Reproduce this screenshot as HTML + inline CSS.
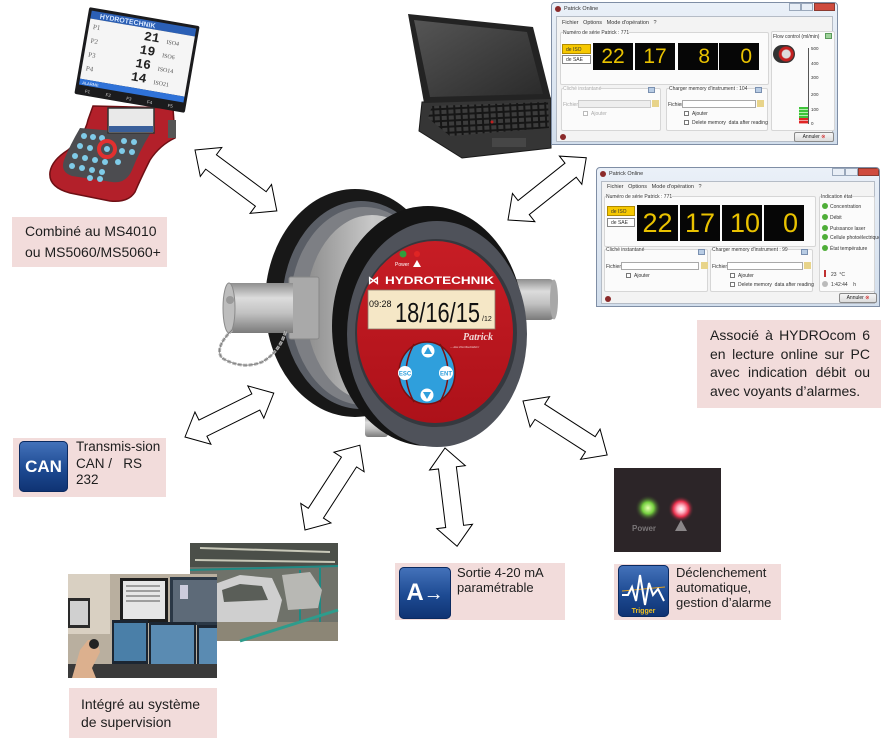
<!DOCTYPE html>
<html><head><meta charset="utf-8">
<style>
*{margin:0;padding:0;box-sizing:border-box}
body{width:889px;height:748px;background:#fff;position:relative;overflow:hidden;font-family:"Liberation Sans",Arial,sans-serif;color:#1e1e1e}
.a{position:absolute}
.pink{position:absolute;background:#f2dcdb}
.txt{position:absolute;white-space:nowrap;color:#1e1e1e}
.icon{position:absolute;border-radius:5px;background:linear-gradient(#4573bb,#1d4a92 55%,#0f3272);box-shadow:inset 0 0 0 1px #0b2a60;color:#fff;font-weight:bold;text-align:center}
.win{position:absolute;border:1px solid #7f8ea5;background:linear-gradient(#eaf0f8,#d2deec);border-radius:4px 4px 0 0;overflow:hidden}
.win div{position:absolute;white-space:nowrap}
.s{font-size:5px;color:#333;line-height:6px}
.grp{border:1px solid #d6d6d6;border-radius:2px;background:#fbfbfb}
.blk{background:#060606;color:#e9c200;text-align:center}
.fld{background:#fff;border:1px solid #a9a9a9}
.chk{width:5px;height:5px;border:1px solid #777;background:#fff}
.btn{border:1px solid #8a8a8a;border-radius:2px;background:linear-gradient(#f6f6f6,#dcdcdc);font-size:5px;color:#222;text-align:center;line-height:8px}
</style></head>
<body>

<svg class="a" style="left:0;top:0" width="889" height="748" viewBox="0 0 889 748">
<defs>
<linearGradient id="cyl" x1="0" y1="0" x2="0" y2="1">
<stop offset="0" stop-color="#8e8e8e"/><stop offset=".3" stop-color="#dcdcdc"/><stop offset=".6" stop-color="#c2c2c2"/><stop offset="1" stop-color="#7a7a7a"/></linearGradient>
<linearGradient id="silver" x1="0" y1="0" x2="1" y2="0">
<stop offset="0" stop-color="#8d8d8d"/><stop offset=".5" stop-color="#c8c8c8"/><stop offset="1" stop-color="#b0b0b0"/></linearGradient>
<linearGradient id="red" x1="0" y1="0" x2="0" y2="1">
<stop offset="0" stop-color="#c71d25"/><stop offset="1" stop-color="#ad1119"/></linearGradient>
<linearGradient id="scr" x1="0" y1="0" x2="1" y2="1">
<stop offset="0" stop-color="#555"/><stop offset="1" stop-color="#2a2a2a"/></linearGradient>
<radialGradient id="gG"><stop offset="0" stop-color="#e6ffb0"/><stop offset=".45" stop-color="#74cf3e"/><stop offset="1" stop-color="#2c2528" stop-opacity="0"/></radialGradient>
<radialGradient id="gR"><stop offset="0" stop-color="#fff"/><stop offset=".3" stop-color="#ffb0c0"/><stop offset=".6" stop-color="#e8304c"/><stop offset="1" stop-color="#2c2528" stop-opacity="0"/></radialGradient>
<pattern id="keys" width="7" height="6" patternUnits="userSpaceOnUse" patternTransform="rotate(-3)">
<rect width="7" height="6" fill="#161616"/><rect x="1" y="1" width="5" height="4" fill="#3c3c3c"/></pattern>
</defs>

<!-- ===== handheld MS4010 ===== -->
<path d="M93,106 L173,108 L175,138 Q160,145 150,160 Q140,180 135,192 Q128,203 110,201 L70,193 Q48,187 50,172 Q52,160 68,150 Q85,135 88,120 Z" fill="#b3202a" stroke="#6e0f14" stroke-width="1.5"/>
<path d="M80,128 L150,134 Q140,150 132,170 Q126,184 112,182 L72,176 Q60,172 64,160 Q70,145 80,128 Z" fill="#4c4c50"/>
<rect x="108" y="108" width="46" height="25" fill="#e9e9e9" stroke="#333" stroke-width="1.5"/>
<rect x="109" y="126" width="44" height="6" fill="#3a5f9a"/>
<g fill="#7fcbe8">
<circle cx="84" cy="136" r="3"/><circle cx="93" cy="137" r="3"/><circle cx="102" cy="138" r="3"/><circle cx="124" cy="141" r="3"/><circle cx="134" cy="142" r="3"/>
<circle cx="80" cy="146" r="3"/><circle cx="90" cy="148" r="3"/><circle cx="122" cy="151" r="3"/><circle cx="132" cy="152" r="3"/>
<circle cx="75" cy="156" r="3"/><circle cx="85" cy="158" r="3"/><circle cx="95" cy="160" r="3"/><circle cx="105" cy="162" r="3"/><circle cx="118" cy="162" r="3"/>
<circle cx="72" cy="166" r="3"/><circle cx="82" cy="168" r="3"/><circle cx="92" cy="170" r="3"/><circle cx="102" cy="172" r="3"/>
<circle cx="90" cy="178" r="3"/><circle cx="100" cy="179" r="3"/>
</g>
<circle cx="107" cy="149" r="8" fill="none" stroke="#e03030" stroke-width="4"/>
<circle cx="107" cy="149" r="3" fill="#7fcbe8"/>
<rect x="168" y="120" width="8" height="18" fill="#555"/>

<g transform="translate(137,60) rotate(9.8) translate(-56,-44)">
<rect width="112" height="88" rx="2" fill="#1b1b1d"/>
<rect x="3" y="3" width="106" height="8" fill="#2b5fb5"/>
<text x="12" y="9.6" font-size="7" font-weight="bold" fill="#d8e8ff" font-family="Liberation Sans,sans-serif">HYDROTECHNIK</text>
<rect x="3" y="11" width="106" height="61" fill="#f5f5f5"/>
<rect x="3" y="72" width="106" height="6" fill="#2f72d8"/>
<text x="6" y="77" font-size="4" fill="#fff" font-family="Liberation Sans,sans-serif">ALARME</text>
<g font-family="Liberation Serif,serif" font-size="7" fill="#666">
<text x="7" y="21">P1</text><text x="7" y="35">P2</text><text x="7" y="49">P3</text><text x="7" y="63">P4</text></g>
<g font-family="Liberation Mono,monospace" font-size="13" font-weight="bold" fill="#222">
<text x="59" y="23">21</text><text x="57" y="37">19</text><text x="55" y="51">16</text><text x="53" y="65">14</text></g>
<g font-family="Liberation Serif,serif" font-size="6" fill="#555">
<text x="82" y="23">ISO4</text><text x="80" y="37">ISO6</text><text x="78" y="51">ISO14</text><text x="76" y="65">ISO21</text></g>
<g font-family="Liberation Sans,sans-serif" font-size="4.5" fill="#ccc">
<text x="10" y="85">F1</text><text x="31" y="85">F2</text><text x="52" y="85">F3</text><text x="73" y="85">F4</text><text x="94" y="85">F5</text></g>
</g>

<!-- ===== laptop ===== -->
<polygon points="422,102 551,98 551,148 462,158 419,131" fill="#353535" stroke="#1a1a1a"/>
<polygon points="432,106 548,102 549,128 450,136 428,118" fill="url(#keys)"/>
<circle cx="492" cy="122" r="1.5" fill="#c02020"/>
<rect x="492" y="138" width="34" height="9" fill="#464646"/>
<polygon points="408,14 533,27 551,99 424,103" fill="#232323"/>
<polygon points="414,20 527,32 543,94 430,97" fill="url(#scr)"/>

<!-- ===== central device ===== -->
<rect x="500" y="279" width="55" height="41" rx="6" fill="url(#cyl)"/>
<ellipse cx="554" cy="299.5" rx="4" ry="20" fill="#a8a8a8"/>
<ellipse cx="355" cy="303" rx="90" ry="114" fill="#181818"/>
<ellipse cx="361" cy="305" rx="79" ry="104" fill="#5a5e66"/>
<ellipse cx="364" cy="306" rx="74" ry="99" fill="#7d7f84"/>
<ellipse cx="372" cy="308" rx="66" ry="93" fill="url(#silver)"/>
<rect x="365" y="416" width="23" height="21" rx="3" fill="url(#cyl)"/>
<!-- left fitting -->
<rect x="289" y="277" width="30" height="62" rx="2" fill="#a9a9a9" stroke="#888"/>
<rect x="228" y="283" width="65" height="50" fill="url(#cyl)"/>
<ellipse cx="229" cy="308" rx="6" ry="25" fill="#bdbdbd" stroke="#8a8a8a"/>
<circle cx="230" cy="300" r="4" fill="#999"/>
<!-- front ring -->
<ellipse cx="428" cy="326" rx="96" ry="120" fill="#141414"/>
<ellipse cx="437" cy="334" rx="90" ry="113" fill="#4f525a"/>
<ellipse cx="436" cy="333" rx="81" ry="94" fill="#35383e"/>
<ellipse cx="435" cy="332" rx="78" ry="91" fill="url(#red)"/>
<!-- chain -->
<path d="M232,330 Q214,348 222,358 Q242,370 262,362 Q280,352 286,330" fill="none" stroke="#b0b0b0" stroke-width="3" stroke-dasharray="4 1.5"/>
<path d="M232,330 Q214,348 222,358 Q242,370 262,362 Q280,352 286,330" fill="none" stroke="#6a6a6a" stroke-width="0.6"/>
<!-- face -->
<circle cx="403" cy="254" r="3.5" fill="#2f9e3c"/>
<circle cx="417" cy="254" r="3" fill="#e02424"/>
<text x="395" y="266" font-size="5" fill="#fff" font-family="Liberation Sans,sans-serif">Power</text>
<polygon points="417,260 421,267 413,267" fill="#fff"/>
<text x="368" y="284" font-size="11" font-weight="bold" fill="#fff" font-family="Liberation Sans,sans-serif">⋈</text>
<text x="385" y="284" font-size="11" font-weight="bold" fill="#fff" textLength="109" lengthAdjust="spacingAndGlyphs" font-family="Liberation Sans,sans-serif">HYDROTECHNIK</text>
<rect x="368" y="290" width="127" height="39" fill="#f5e7c6" stroke="#8a7a6a" stroke-width="0.8"/>
<text x="369" y="307" font-size="9" fill="#111" font-family="Liberation Sans,sans-serif">09:28</text>
<text x="395" y="322" font-size="28" fill="#111" textLength="85" lengthAdjust="spacingAndGlyphs" font-family="Liberation Sans,sans-serif">18/16/15</text>
<text x="482" y="321" font-size="7" fill="#111" font-family="Liberation Sans,sans-serif">/12</text>
<text x="463" y="340" font-size="10" font-style="italic" font-weight="bold" fill="#f3d8d8" font-family="Liberation Serif,serif">Patrick</text>
<text x="450" y="348" font-size="3.5" font-style="italic" fill="#f3d8d8" font-family="Liberation Serif,serif">... das Partikelzähler</text>
<!-- keypad -->
<g fill="#2f9fdc" stroke="#7a1010" stroke-width="1.5">
<ellipse cx="427" cy="373" rx="28" ry="31"/>
<path d="M414,344 Q398,373 414,402" fill="none"/>
<path d="M440,344 Q456,373 440,402" fill="none"/>
</g>
<circle cx="428" cy="351" r="6.5" fill="#fff"/>
<polygon points="428,347 432,354 424,354" fill="#2f9fdc"/>
<circle cx="427" cy="395" r="6.5" fill="#fff"/>
<polygon points="427,399 431,392 423,392" fill="#2f9fdc"/>
<circle cx="405" cy="373" r="7" fill="#fff"/>
<circle cx="446" cy="373" r="7" fill="#fff"/>
<text x="405" y="375.5" font-size="6" font-weight="bold" fill="#2f9fdc" text-anchor="middle" font-family="Liberation Sans,sans-serif">ESC</text>
<text x="446" y="375.5" font-size="6" font-weight="bold" fill="#2f9fdc" text-anchor="middle" font-family="Liberation Sans,sans-serif">ENT</text>

<!-- ===== arrows ===== -->
<g fill="#fff" stroke="#000" stroke-width="1">
<polygon transform="translate(195,150) rotate(36.65)" points="0,0 20,-18 20,-9 82,-9 82,-18 102,0 82,18 82,9 20,9 20,18"/>
<polygon transform="translate(508,220) rotate(-38.5)" points="0,0 20,-18 20,-9 80,-9 80,-18 100,0 80,18 80,9 20,9 20,18"/>
<polygon transform="translate(185,437) rotate(-26.3)" points="0,0 20,-18 20,-9 79,-9 79,-18 99,0 79,18 79,9 20,9 20,18"/>
<polygon transform="translate(305,530) rotate(-57.1)" points="0,0 20,-18 20,-9 81,-9 81,-18 101,0 81,18 81,9 20,9 20,18"/>
<polygon transform="translate(445,448) rotate(83)" points="0,0 20,-18 20,-9 79,-9 79,-18 99,0 79,18 79,9 20,9 20,18"/>
<polygon transform="translate(523,401) rotate(32.7)" points="0,0 20,-18 20,-9 80,-9 80,-18 100,0 80,18 80,9 20,9 20,18"/>
</g>

<!-- ===== LED photo ===== -->
<rect x="614" y="468" width="107" height="84" fill="#2c2528"/>
<circle cx="648" cy="508" r="13" fill="url(#gG)"/>
<circle cx="681" cy="509" r="13" fill="url(#gR)"/>
<text x="632" y="531" font-size="8" font-weight="bold" fill="#7a7678" font-family="Liberation Sans,sans-serif">Power</text>
<polygon points="681,520 687,531 675,531" fill="#8a8688"/>

<!-- ===== factory photo ===== -->
<rect x="190" y="543" width="148" height="98" fill="#6f726a"/>
<rect x="190" y="543" width="148" height="24" fill="#4b4f49"/>
<g stroke="#c8c8b8" stroke-width="2"><line x1="200" y1="548" x2="330" y2="552"/><line x1="195" y1="560" x2="335" y2="562"/></g>
<g stroke="#1f8a84" stroke-width="2"><line x1="190" y1="570" x2="338" y2="566"/><line x1="300" y1="570" x2="300" y2="641"/><line x1="320" y1="568" x2="320" y2="641"/></g>
<polygon points="212,585 240,575 272,578 282,600 276,625 215,628" fill="#cfcfcf"/>
<polygon points="222,590 240,584 262,586 268,600 224,602" fill="#5a5e58"/>
<polygon points="282,575 310,572 322,590 318,608 288,610" fill="#b8b8b4"/>
<rect x="190" y="622" width="148" height="19" fill="#8c8676"/>
<line x1="240" y1="641" x2="338" y2="610" stroke="#2e9c8c" stroke-width="3"/>
<line x1="190" y1="612" x2="212" y2="612" stroke="#2e9c8c" stroke-width="3"/>

<!-- ===== control room photo ===== -->
<rect x="68" y="574" width="149" height="104" fill="#b9af9f"/>
<rect x="68" y="574" width="42" height="60" fill="#d9d0c2"/>
<rect x="68" y="598" width="22" height="30" fill="#2a2a2a"/>
<rect x="70" y="601" width="18" height="24" fill="#d0d0d0"/>
<rect x="120" y="578" width="48" height="45" fill="#1e1e1e"/>
<rect x="123" y="581" width="42" height="38" fill="#e6e6e6"/>
<g stroke="#555" stroke-width="1"><line x1="126" y1="586" x2="160" y2="586"/><line x1="126" y1="591" x2="160" y2="591"/><line x1="126" y1="596" x2="160" y2="596"/><line x1="126" y1="601" x2="160" y2="601"/></g>
<rect x="170" y="577" width="47" height="48" fill="#2b3846"/>
<rect x="173" y="580" width="44" height="42" fill="#5d6a78"/>
<rect x="180" y="585" width="8" height="14" fill="#ccd"/>
<rect x="112" y="620" width="36" height="45" fill="#1c2632"/>
<rect x="114" y="623" width="32" height="38" fill="#4a7fa8"/>
<rect x="149" y="622" width="47" height="47" fill="#1c2632"/>
<rect x="151" y="625" width="43" height="40" fill="#5a8bb2"/>
<rect x="197" y="625" width="20" height="46" fill="#1c2632"/>
<rect x="199" y="628" width="18" height="40" fill="#5a8bb2"/>
<rect x="68" y="664" width="149" height="14" fill="#3a3a3a"/>
<polygon points="72,678 80,650 88,640 97,640 100,652 92,668 96,678" fill="#dcb08e"/>
<circle cx="94" cy="644" r="5" fill="#222"/>

</svg>

<!-- ===== Window 1 ===== -->
<div class="win" style="left:551px;top:2px;width:287px;height:143px">
 <div style="left:3px;top:3px;width:6px;height:6px;border-radius:3px;background:#8b2a2a"></div>
 <div class="s" style="left:12px;top:3px;font-size:5.5px">Patrick Online</div>
 <div style="left:237px;top:0;width:12px;height:8px;border:1px solid #9aa8bb;background:#e8eef6"></div>
 <div style="left:249px;top:0;width:12px;height:8px;border:1px solid #9aa8bb;background:#e8eef6"></div>
 <div style="left:262px;top:0;width:21px;height:8px;border:1px solid #8a3a30;background:#cf4b3e"></div>
 <div style="left:4px;top:13px;width:277px;height:126px;background:#f3f3f3;border:1px solid #b5bcc6"></div>
 <div class="s" style="left:10px;top:17px;font-size:5.5px">Fichier&nbsp;&nbsp;&nbsp;Options&nbsp;&nbsp;&nbsp;Mode d'opération&nbsp;&nbsp;&nbsp;?</div>
 <div class="grp" style="left:8px;top:29px;width:209px;height:53px"></div>
 <div class="s" style="left:11px;top:27px;background:#fbfbfb">Numéro de série Patrick : 771</div>
 <div class="s" style="left:10px;top:41px;width:29px;height:10px;background:#f6c800;border:1px solid #b08a00;padding:2px 0 0 3px">de ISO</div>
 <div class="s" style="left:10px;top:52px;width:29px;height:9px;background:#fff;border:1px solid #888;padding:1px 0 0 3px">de SAE</div>
 <div class="blk" style="left:41px;top:40px;width:40px;height:27px;font-size:21px;line-height:27px">22</div>
 <div class="blk" style="left:83px;top:40px;width:40px;height:27px;font-size:21px;line-height:27px">17</div>
 <div class="blk" style="left:126px;top:40px;width:40px;height:27px;font-size:21px;line-height:27px;text-align:right;padding-right:8px">8</div>
 <div class="blk" style="left:167px;top:40px;width:40px;height:27px;font-size:21px;line-height:27px;text-align:right;padding-right:7px">0</div>
 <div class="grp" style="left:9px;top:85px;width:100px;height:43px"></div>
 <div class="s" style="left:11px;top:83px;color:#aaa;background:#fbfbfb">Cliché instantané</div>
 <div style="left:96px;top:84px;width:7px;height:6px;background:#b8cce4;border:1px solid #7a90b0"></div>
 <div class="s" style="left:11px;top:99px;color:#aaa">Fichier</div>
 <div class="fld" style="left:26px;top:97px;width:73px;height:8px;background:#eee;border-color:#ccc"></div>
 <div style="left:100px;top:97px;width:7px;height:7px;background:#e8d48a"></div>
 <div class="chk" style="left:31px;top:108px;border-color:#bbb"></div>
 <div class="s" style="left:39px;top:108px;color:#aaa">Ajouter</div>
 <div class="grp" style="left:114px;top:85px;width:102px;height:43px"></div>
 <div class="s" style="left:117px;top:83px;background:#fbfbfb">Charger memory d'instrument : 104</div>
 <div style="left:203px;top:84px;width:7px;height:6px;background:#b8cce4;border:1px solid #7a90b0"></div>
 <div class="s" style="left:116px;top:99px">Fichier</div>
 <div class="fld" style="left:130px;top:97px;width:74px;height:8px"></div>
 <div style="left:205px;top:97px;width:7px;height:7px;background:#e8d48a"></div>
 <div class="chk" style="left:132px;top:108px"></div>
 <div class="s" style="left:140px;top:108px">Ajouter</div>
 <div class="chk" style="left:132px;top:117px"></div>
 <div class="s" style="left:140px;top:117px">Delete memory&nbsp; data after reading</div>
 <div class="grp" style="left:219px;top:28px;width:64px;height:100px"></div>
 <div class="s" style="left:221px;top:31px">Flow control (ml/min)</div>
 <div style="left:273px;top:30px;width:7px;height:6px;background:#9ed29a;border:1px solid #5a9a5a"></div>
 <div style="left:221px;top:42px;width:22px;height:18px;border-radius:9px;background:radial-gradient(circle at 60% 50%,#ddd 0 4px,#c42020 5px 7px,#333 8px)"></div>
 <div style="left:256px;top:45px;width:1px;height:76px;background:#555"></div>
 <div class="s" style="left:259px;top:43px;font-size:4.5px">500</div>
 <div class="s" style="left:259px;top:58px;font-size:4.5px">400</div>
 <div class="s" style="left:259px;top:72px;font-size:4.5px">300</div>
 <div class="s" style="left:259px;top:89px;font-size:4.5px">200</div>
 <div class="s" style="left:259px;top:104px;font-size:4.5px">100</div>
 <div class="s" style="left:259px;top:118px;font-size:4.5px">0</div>
 <div style="left:247px;top:104px;width:9px;height:11px;background:repeating-linear-gradient(#3ec43a 0 2px,#b8f0b0 2px 3px)"></div>
 <div style="left:247px;top:115px;width:9px;height:6px;background:repeating-linear-gradient(#e02424 0 2px,#f0a0a0 2px 3px)"></div>
 <div style="left:8px;top:131px;width:6px;height:6px;border-radius:3px;background:#8b2a2a"></div>
 <div class="btn" style="left:242px;top:129px;width:40px;height:10px">Annuler <span style="color:#d02020">⊗</span></div>
</div>

<!-- ===== Window 2 ===== -->
<div class="win" style="left:596px;top:167px;width:284px;height:140px">
 <div style="left:3px;top:3px;width:6px;height:6px;border-radius:3px;background:#8b2a2a"></div>
 <div class="s" style="left:12px;top:3px;font-size:5.5px">Patrick Online</div>
 <div style="left:235px;top:0;width:13px;height:8px;border:1px solid #9aa8bb;background:#e8eef6"></div>
 <div style="left:248px;top:0;width:13px;height:8px;border:1px solid #9aa8bb;background:#e8eef6"></div>
 <div style="left:261px;top:0;width:21px;height:8px;border:1px solid #8a3a30;background:#cf4b3e"></div>
 <div style="left:4px;top:13px;width:274px;height:123px;background:#f3f3f3;border:1px solid #b5bcc6"></div>
 <div class="s" style="left:10px;top:16px;font-size:5.5px">Fichier&nbsp;&nbsp;&nbsp;Options&nbsp;&nbsp;&nbsp;Mode d'opération&nbsp;&nbsp;&nbsp;?</div>
 <div class="grp" style="left:7px;top:28px;width:212px;height:51px"></div>
 <div class="s" style="left:9px;top:26px;background:#fbfbfb">Numéro de série Patrick : 771</div>
 <div class="s" style="left:10px;top:38px;width:28px;height:10px;background:#f6c800;border:1px solid #b08a00;padding:2px 0 0 3px">de ISO</div>
 <div class="s" style="left:10px;top:50px;width:28px;height:9px;background:#fff;border:1px solid #888;padding:1px 0 0 3px">de SAE</div>
 <div class="blk" style="left:40px;top:37px;width:41px;height:36px;font-size:27px;line-height:36px">22</div>
 <div class="blk" style="left:83px;top:37px;width:40px;height:36px;font-size:27px;line-height:36px">17</div>
 <div class="blk" style="left:125px;top:37px;width:40px;height:36px;font-size:27px;line-height:36px;padding-left:6px">10</div>
 <div class="blk" style="left:167px;top:37px;width:40px;height:36px;font-size:27px;line-height:36px;text-align:right;padding-right:6px">0</div>
 <div class="grp" style="left:7px;top:81px;width:104px;height:43px"></div>
 <div class="s" style="left:9px;top:79px;background:#fbfbfb">Cliché instantané</div>
 <div style="left:101px;top:81px;width:7px;height:6px;background:#b8cce4;border:1px solid #7a90b0"></div>
 <div class="s" style="left:9px;top:96px">Fichier</div>
 <div class="fld" style="left:24px;top:94px;width:78px;height:8px"></div>
 <div style="left:104px;top:94px;width:7px;height:7px;background:#e8d48a"></div>
 <div class="chk" style="left:29px;top:105px"></div>
 <div class="s" style="left:37px;top:105px">Ajouter</div>
 <div class="grp" style="left:113px;top:81px;width:103px;height:43px"></div>
 <div class="s" style="left:115px;top:79px;background:#fbfbfb">Charger memory d'instrument : 99</div>
 <div style="left:204px;top:81px;width:7px;height:6px;background:#b8cce4;border:1px solid #7a90b0"></div>
 <div class="s" style="left:115px;top:96px">Fichier</div>
 <div class="fld" style="left:130px;top:94px;width:76px;height:8px"></div>
 <div style="left:207px;top:94px;width:7px;height:7px;background:#e8d48a"></div>
 <div class="chk" style="left:133px;top:105px"></div>
 <div class="s" style="left:141px;top:105px">Ajouter</div>
 <div class="chk" style="left:133px;top:114px"></div>
 <div class="s" style="left:141px;top:114px">Delete memory&nbsp; data after reading</div>
 <div class="grp" style="left:222px;top:28px;width:56px;height:96px"></div>
 <div class="s" style="left:224px;top:26px;background:#fbfbfb">Indication état</div>
 <div style="left:225px;top:35px;width:6px;height:6px;border-radius:3px;background:#4fae38"></div>
 <div class="s" style="left:233px;top:36px">Concentration</div>
 <div style="left:225px;top:46px;width:6px;height:6px;border-radius:3px;background:#4fae38"></div>
 <div class="s" style="left:233px;top:47px">Débit</div>
 <div style="left:225px;top:57px;width:6px;height:6px;border-radius:3px;background:#4fae38"></div>
 <div class="s" style="left:233px;top:58px">Puissance laser</div>
 <div style="left:225px;top:66px;width:6px;height:6px;border-radius:3px;background:#4fae38"></div>
 <div class="s" style="left:233px;top:67px">Cellule photoélectrique</div>
 <div style="left:225px;top:77px;width:6px;height:6px;border-radius:3px;background:#4fae38"></div>
 <div class="s" style="left:233px;top:78px">État température</div>
 <div style="left:227px;top:102px;width:2px;height:7px;background:#c03030"></div>
 <div class="s" style="left:234px;top:104px">23&nbsp; °C</div>
 <div style="left:225px;top:113px;width:6px;height:6px;border-radius:3px;background:#bbb"></div>
 <div class="s" style="left:234px;top:114px">1:42:44&nbsp;&nbsp;&nbsp; h</div>
 <div style="left:8px;top:128px;width:6px;height:6px;border-radius:3px;background:#8b2a2a"></div>
 <div class="btn" style="left:242px;top:125px;width:38px;height:10px">Annuler <span style="color:#d02020">⊗</span></div>
</div>

<!-- ===== text boxes ===== -->
<div class="pink" style="left:12px;top:217px;width:155px;height:50px"></div>
<div class="txt" style="left:25px;top:221px;font-size:14px;line-height:21px">Combiné au MS4010<br>ou MS5060/MS5060+</div>

<div class="pink" style="left:697px;top:320px;width:184px;height:88px"></div>
<div class="a" style="left:710px;top:326px;width:160px;font-size:14px;line-height:18.7px;color:#1e1e1e">
 <div style="text-align:justify;text-align-last:justify">Associé à HYDROcom 6</div>
 <div style="text-align:justify;text-align-last:justify">en lecture online sur PC</div>
 <div style="text-align:justify;text-align-last:justify">avec indication débit ou</div>
 <div style="white-space:nowrap">avec voyants d’alarmes.</div>
</div>

<div class="pink" style="left:13px;top:438px;width:153px;height:59px"></div>
<div class="icon" style="left:19px;top:441px;width:49px;height:51px;font-size:17px;line-height:51px">CAN</div>
<div class="txt" style="left:76px;top:439px;font-size:13.5px;line-height:16.5px">Transmis-sion<br>CAN /&nbsp;&nbsp; RS<br>232</div>

<div class="pink" style="left:69px;top:688px;width:148px;height:50px"></div>
<div class="txt" style="left:81px;top:695px;font-size:14px;line-height:18px">Intégré au système<br>de supervision</div>

<div class="pink" style="left:395px;top:563px;width:170px;height:57px"></div>
<div class="icon" style="left:399px;top:567px;width:52px;height:52px;font-size:24px;line-height:52px">A<span style="font-size:20px">→</span></div>
<div class="txt" style="left:457px;top:566px;font-size:13px;line-height:14.5px">Sortie 4-20 mA<br>paramétrable</div>

<div class="pink" style="left:614px;top:564px;width:167px;height:56px"></div>
<div class="icon" style="left:618px;top:565px;width:51px;height:52px">
 <svg width="51" height="52" viewBox="0 0 51 52" style="position:absolute;left:0;top:0">
  <line x1="4" y1="26" x2="47" y2="22" stroke="#e0a020" stroke-width="1"/>
  <polyline points="4,30 10,30 14,22 18,36 22,10 27,40 31,18 35,30 40,24 46,36" fill="none" stroke="#fff" stroke-width="2"/>
  <text x="25.5" y="48" font-size="7" font-weight="bold" fill="#f0c020" text-anchor="middle" font-family="Liberation Sans,sans-serif">Trigger</text>
 </svg>
</div>
<div class="txt" style="left:676px;top:565px;font-size:13px;line-height:15px">Déclenchement<br>automatique,<br>gestion d’alarme</div>

</body></html>
